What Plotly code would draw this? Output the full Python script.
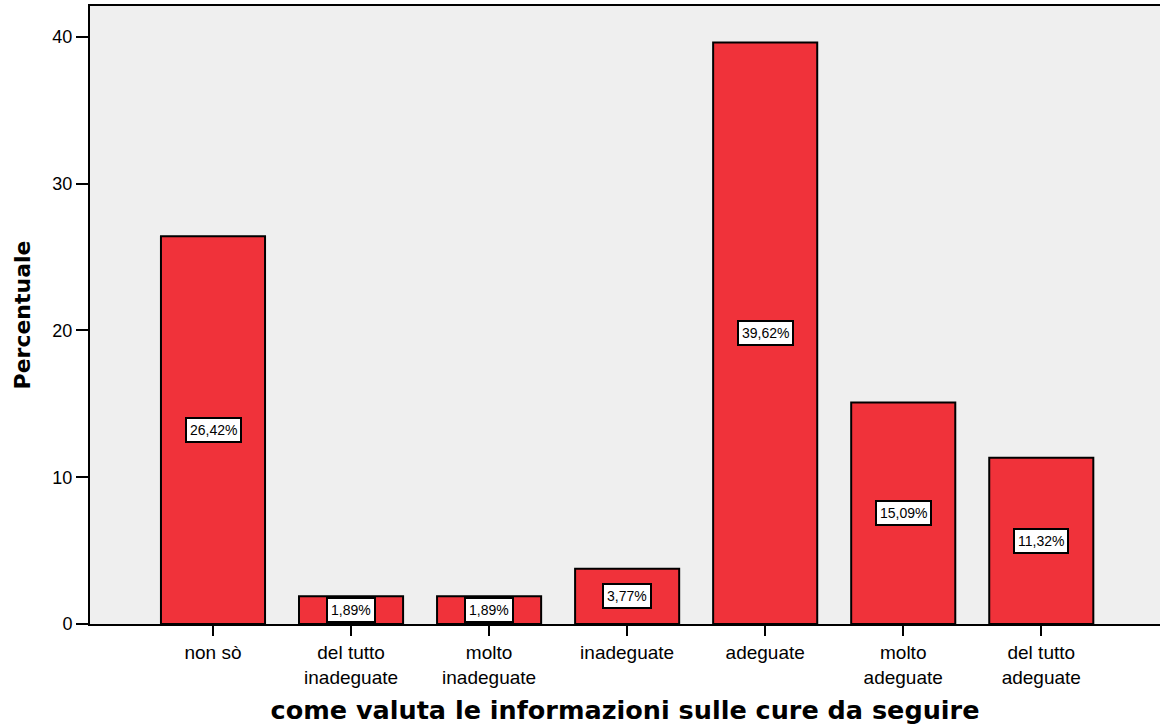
import plotly.graph_objects as go

categories = ["non sò", "del tutto<br>inadeguate", "molto<br>inadeguate", "inadeguate",
              "adeguate", "molto<br>adeguate", "del tutto<br>adeguate"]
values = [26.42, 1.89, 1.89, 3.77, 39.62, 15.09, 11.32]
labels = [f"{v:.2f}%".replace(".", ",") for v in values]
y_ticks = [0, 10, 20, 30, 40]

x_idx = list(range(len(categories)))

fig = go.Figure()
fig.add_trace(go.Bar(
    x=x_idx, y=values, width=0.754,
    marker=dict(color="#F0323A", line=dict(color="#000000", width=2)),
    hoverinfo="skip",
))

for i, (v, t) in enumerate(zip(values, labels)):
    fig.add_annotation(
        x=i, y=v / 2, text=t, showarrow=False,
        font=dict(family="Liberation Sans, Arial", size=14, color="black"),
        bgcolor="white", bordercolor="black", borderwidth=2, borderpad=3,
    )

fig.update_layout(
    width=1160, height=728,
    margin=dict(l=90, r=0, t=6, b=104, autoexpand=False),
    paper_bgcolor="white", plot_bgcolor="#EFEFEF",
    showlegend=False,
    font=dict(family="Liberation Sans, Arial", color="black"),
)
fig.update_xaxes(
    range=[-0.891, 6.86], tickmode="array", tickvals=x_idx, ticktext=categories,
    showgrid=False, zeroline=False, showline=True, linecolor="black", linewidth=2,
    mirror=True, ticks="outside", ticklen=10, tickwidth=2, tickcolor="black",
    tickfont=dict(size=19),
    automargin=False,
    title=dict(text="<b>come valuta le informazioni sulle cure da seguire</b>",
               font=dict(family="DejaVu Sans", size=25.5), standoff=15),
)
fig.update_yaxes(
    range=[0, 42.1], tickmode="array", tickvals=y_ticks,
    showgrid=False, zeroline=False, showline=True, linecolor="black", linewidth=2,
    ticks="outside", ticklen=12, tickwidth=2, tickcolor="black",
    tickfont=dict(size=18),
    automargin=False,
    title=dict(text="<b>Percentuale</b>", font=dict(family="DejaVu Sans", size=22), standoff=16),
)

fig.write_html("out.html", config={"displayModeBar": False},
               post_script="document.body.style.margin='0';")
